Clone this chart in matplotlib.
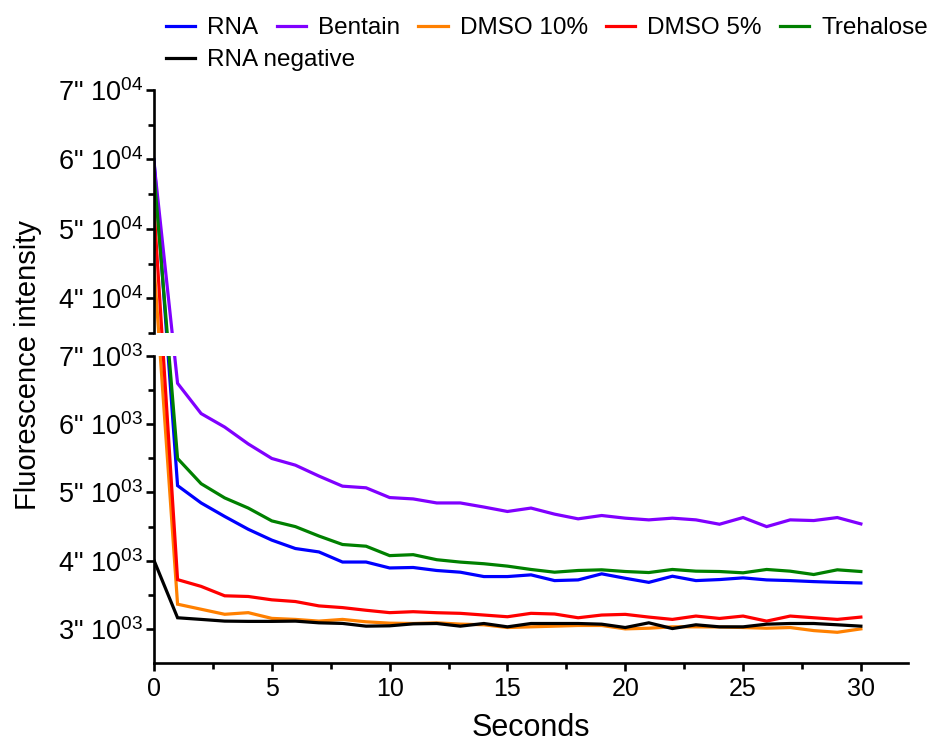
import numpy as np
import matplotlib
matplotlib.use('Agg')
import matplotlib.pyplot as plt
from matplotlib.spines import Spine
from matplotlib.ticker import FixedLocator, FuncFormatter

plt.rcParams['font.family'] = ['Liberation Sans', 'DejaVu Sans']
plt.rcParams['mathtext.default'] = 'regular'

# data
seconds = list(range(31))
rna = [60000, 5100, 4846, 4648, 4460, 4301, 4178, 4128, 3980, 3980, 3893,
       3900, 3856, 3831, 3767, 3767, 3792, 3708, 3718, 3807, 3742,
       3682, 3772, 3708, 3723, 3748, 3718, 3708, 3693, 3682, 3673]
bentain = [59500, 6600, 6156, 5958, 5711, 5498, 5400, 5240, 5092, 5068, 4925,
           4905, 4846, 4846, 4786, 4721, 4771, 4682, 4613, 4662, 4623,
           4598, 4623, 4598, 4534, 4632, 4499, 4598, 4588, 4632, 4539]
dmso10 = [44750, 3362, 3288, 3214, 3238, 3154, 3139, 3114, 3139, 3104, 3084,
          3079, 3089, 3070, 3060, 3020, 3030, 3040, 3050, 3050, 3000,
          3010, 3030, 3030, 3028, 3020, 3010, 3020, 2975, 2950, 3000]
dmso5 = [52950, 3722, 3623, 3485, 3475, 3426, 3401, 3337, 3312, 3273, 3238,
         3252, 3237, 3228, 3203, 3178, 3228, 3218, 3163, 3203, 3213,
         3173, 3139, 3188, 3153, 3188, 3114, 3188, 3163, 3139, 3173]
trehalose = [58000, 5498, 5128, 4920, 4771, 4583, 4499, 4361, 4237, 4212, 4074,
             4088, 4014, 3979, 3955, 3920, 3871, 3831, 3856, 3866, 3841,
             3826, 3871, 3846, 3841, 3822, 3871, 3846, 3797, 3866, 3841]
rna_neg = [4004, 3163, 3139, 3114, 3110, 3110, 3114, 3089, 3080, 3040, 3045,
           3074, 3079, 3040, 3079, 3030, 3079, 3079, 3079, 3069, 3020,
           3089, 3005, 3060, 3030, 3030, 3069, 3079, 3079, 3060, 3040]

labels = ['RNA', 'Bentain', 'DMSO 10%', 'DMSO 5%', 'Trehalose', 'RNA negative']
colors = ['#0000ff', '#8000ff', '#ff8000', '#ff0000', '#008000', '#000000']
series = [rna, bentain, dmso10, dmso5, trehalose, rna_neg]

# broken y axis: 2500-7000 below, 35000-70000 above, small gap between
y_break = [2500, 7000, 35000, 70000]
y_pix = [0, 307, 330, 573]
fwd = lambda v: np.interp(v, y_break, y_pix)
inv = lambda p: np.interp(p, y_pix, y_break)

fig = plt.figure(figsize=(9.39, 7.43), dpi=100)
ax = fig.add_axes([154 / 939, 80 / 743, 754 / 939, 573 / 743])
ax.set_yscale('function', functions=(fwd, inv))
ax.set_ylim(2500, 70000)
ax.set_xlim(0, 32)

handles = []
for s, c, lab in zip(series, colors, labels):
    h, = ax.plot(seconds, s, color=c, lw=2.3, label=lab, solid_joinstyle='miter')
    handles.append(h)

# hide lines inside the gap
ax.axhspan(7000, 35000, color='white', zorder=2.2, lw=0)

for side in ['top', 'right']:
    ax.spines[side].set_visible(False)
ax.spines['left'].set_bounds(2500, 7000)
ax.spines['left'].set_linewidth(1.9)
ax.spines['bottom'].set_linewidth(1.9)
upper = Spine.linear_spine(ax, 'left')
ax.spines['left_upper'] = upper
upper.set_bounds(35000, 70000)
upper.set_linewidth(1.9)
upper.set_color('black')

ax.yaxis.set_major_locator(FixedLocator([3000, 4000, 5000, 6000, 7000,
                                         40000, 50000, 60000, 70000]))
ax.yaxis.set_minor_locator(FixedLocator([3500, 4500, 5500, 6500,
                                         35000, 45000, 55000, 65000]))

def ylab(v, pos):
    if v < 10000:
        return '%d" 10$^{03}$' % round(v / 1000)
    return '%d" 10$^{04}$' % round(v / 10000)

ax.yaxis.set_major_formatter(FuncFormatter(ylab))
ax.set_xticks([0, 5, 10, 15, 20, 25, 30])
ax.set_xticks([2.5, 7.5, 12.5, 17.5, 22.5, 27.5], minor=True)

ax.tick_params(which='major', length=6, width=1.9)
ax.tick_params(which='minor', length=4, width=1.9)
ax.tick_params(axis='y', which='major', pad=2, labelsize=19.5)
ax.tick_params(axis='x', which='major', pad=4, labelsize=18)

ax.set_xlabel('Seconds', fontsize=22, labelpad=9)
ax.set_ylabel('Fluorescence intensity', fontsize=21)
ax.yaxis.set_label_coords(-0.1485, 0.52)

leg_kw = dict(frameon=False, fontsize=17.5, handlelength=1.2, handletextpad=0.5,
              columnspacing=0.75, borderpad=0, borderaxespad=0, loc='center left')
leg1 = fig.legend(handles[:5], labels[:5], ncol=5,
                  bbox_to_anchor=(166 / 939, 1 - 28 / 743), **leg_kw)
leg2 = fig.legend(handles[5:], labels[5:], ncol=1,
                  bbox_to_anchor=(166 / 939, 1 - 60 / 743), **leg_kw)

fig.savefig('out.png', dpi=100)
